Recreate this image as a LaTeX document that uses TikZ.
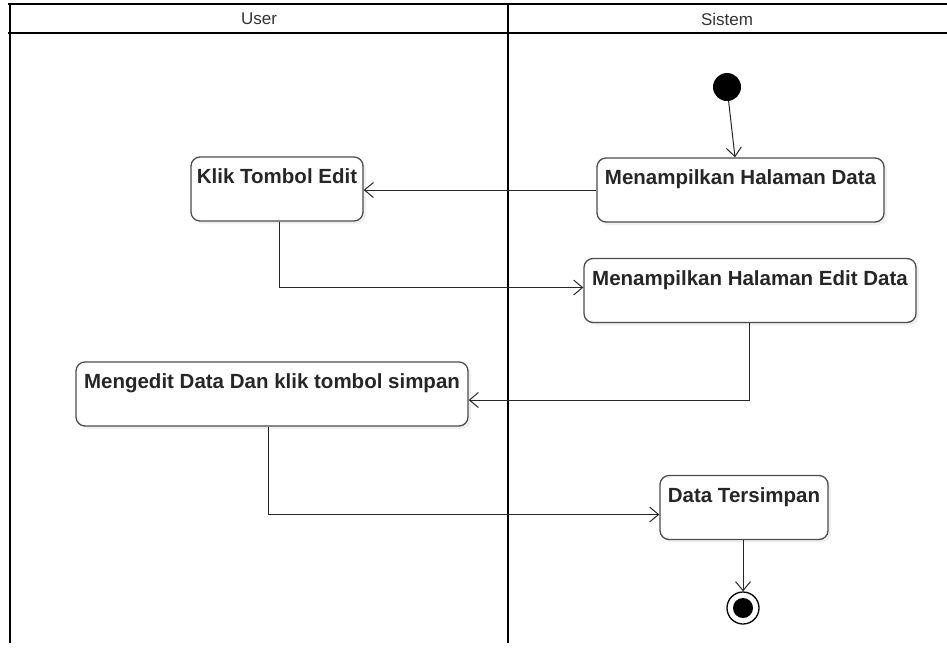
\documentclass[tikz,border=0pt]{standalone}
\usepackage{fontspec}
\setmainfont{Liberation Sans}
\usetikzlibrary{arrows.meta,shadows}

\begin{document}
\begin{tikzpicture}[x=1pt,y=-1pt]
        \tikzset{activity/.style = {shape=rectangle,draw=black!70,line width=1.3pt,rounded corners=9pt,fill=white,
            drop shadow={opacity=0.12,shadow xshift=3pt,shadow yshift=-3pt},
            font=\fontsize{20.5}{24}\selectfont\bfseries,text=black!85,
            text height=22pt,text depth=33pt,inner ysep=4.5pt,inner xsep=0pt}};
        \tikzset{edge/.style = {-{Straight Barb[length=9pt,width=15pt,line width=1pt]},line width=1pt,black!85}};
        \tikzset{lane/.style = {line width=2.2pt}};
        \useasboundingbox (0,0) rectangle (947,654);
        % swimlanes
        \draw[lane] (8,4) -- (947,4);
        \draw[lane] (8,33) -- (947,33);
        \draw[lane] (10,4) -- (10,643);
        \draw[lane] (508,4) -- (508,643);
        \node[font=\fontsize{17}{20}\selectfont,text=black!80] (user) at (259,19) {User};
        \node[font=\fontsize{17}{20}\selectfont,text=black!80] (sistem) at (727,19) {Sistem};
        % activities
        \node[shape=circle,fill=black,minimum size=28pt,inner sep=0pt] (start) at (727,87) {};
        \node[activity,minimum width=287pt] (tampil) at (740.5,190) {Menampilkan Halaman Data};
        \node[activity,minimum width=172pt] (klik) at (277,189) {Klik Tombol Edit};
        \node[activity,minimum width=332pt] (tampiledit) at (750,290.5) {Menampilkan Halaman Edit Data};
        \node[activity,minimum width=392pt] (edit) at (272,394) {Mengedit Data Dan klik tombol simpan};
        \node[activity,minimum width=168pt] (simpan) at (744,507.5) {Data Tersimpan};
        \node[shape=circle,draw,line width=1.3pt,fill=white,minimum size=32pt,inner sep=0pt] (end) at (743,608) {};
        \fill (end.center) circle (10pt);
        % flows
        \draw[edge] (start) -- ([xshift=-5.5pt]tampil.north);
        \draw[edge] (tampil.west) -- (tampil.west -| klik.east);
        \draw[edge] ([xshift=2pt]klik.south) |- ([yshift=3pt]tampiledit.west);
        \draw[edge] ([xshift=-1pt]tampiledit.south) |- ([yshift=-6pt]edit.east);
        \draw[edge] ([xshift=-4pt]edit.south) |- ([yshift=-7pt]simpan.west);
        \draw[edge] ([xshift=-1pt]simpan.south) -- (end);
    \end{tikzpicture}
\end{document}
